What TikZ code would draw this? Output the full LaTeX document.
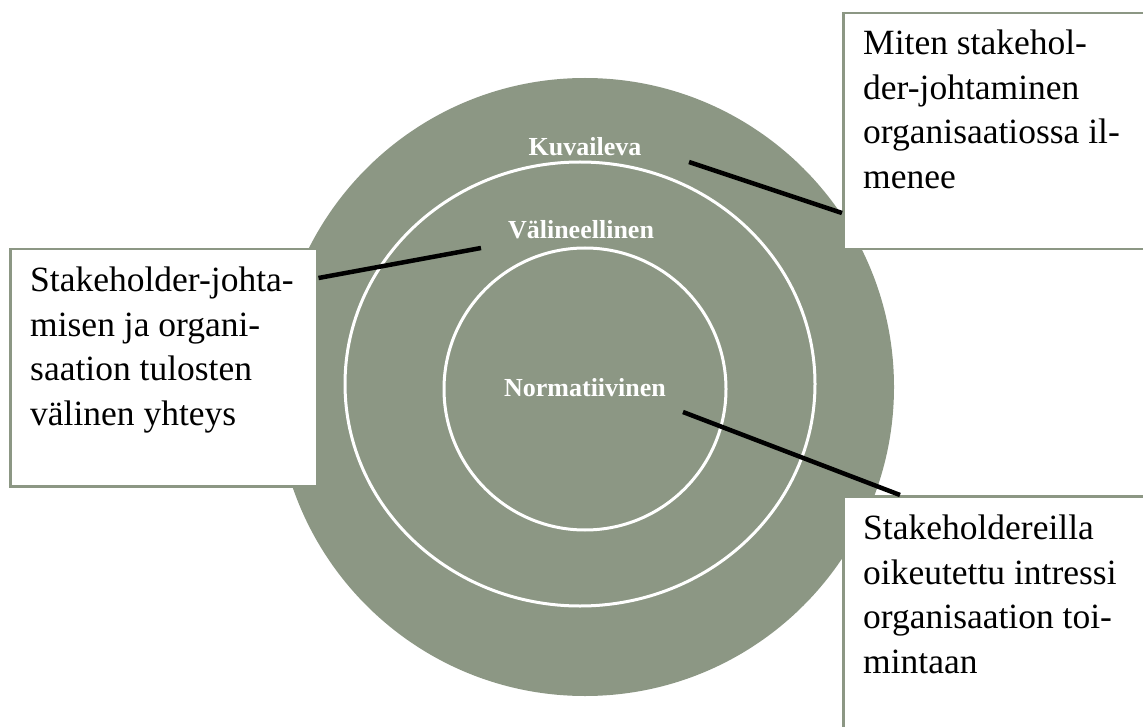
\documentclass[tikz,border=0pt]{standalone}
\usepackage{fontspec}
\setmainfont{Liberation Serif}
\usepackage{tikz}
\usetikzlibrary{positioning,shapes.geometric}
\definecolor{salvia}{HTML}{8C9784}

\begin{document}
\begin{tikzpicture}[x=1pt,y=-1pt,
    rengas/.style={draw=white,line width=3pt,inner sep=0pt},
    taso/.style={text=white,font=\fontsize{26}{30}\selectfont\bfseries,anchor=base,inner sep=0pt},
    laatikko/.style={draw=salvia,line width=2.5pt,fill=white,anchor=north west,inner sep=0pt},
    teksti/.style={align=left,inner sep=0pt,font=\fontsize{35.5}{44.5}\selectfont},
    viiva/.style={line width=4.5pt,black}]
  \useasboundingbox (0,0) rectangle (1143,727);
  % renkaat
  \node[circle,fill=salvia,minimum size=618pt,inner sep=0pt] (ulko) at (585,387) {};
  \node[rengas,ellipse,minimum width=470pt,minimum height=444pt] (keski) at (580,384) {};
  \node[rengas,circle,minimum size=282pt] (sisa) at (585,389) {};
  \node[taso] (kuv) at (585,156) {Kuvaileva};
  \node[taso] (val) at (581,239) {Välineellinen};
  \node[taso] (norm) at (585,396) {Normatiivinen};
  % laatikot
  \node[laatikko,minimum width=330pt,minimum height=236pt] (kuvbox) at (842,12) {};
  \node[teksti,below right=18pt and 21pt of kuvbox.north west] (kuvteksti) {Miten stakehol-\\der-johtaminen\\organisaatiossa il-\\menee};
  \node[laatikko,minimum width=307pt,minimum height=237pt] (valbox) at (9,248) {};
  \node[teksti,below right=19pt and 21pt of valbox.north west] (valteksti) {Stakeholder-johta-\\misen ja organi-\\saation tulosten\\välinen yhteys};
  \node[laatikko,minimum width=330pt,minimum height=250pt] (normbox) at (842,495) {};
  \node[teksti,below right=20pt and 21pt of normbox.north west] (normteksti) {Stakeholdereilla\\oikeutettu intressi\\organisaation toi-\\mintaan};
  % viivat
  \coordinate (kuvpaa) at (689,162); \coordinate (kuvliitos) at ([yshift=-201pt]kuvbox.north west);
  \coordinate (valpaa) at (481,248); \coordinate (valliitos) at ([yshift=-30pt]valbox.north east);
  \coordinate (normpaa) at (683,412); \coordinate (normliitos) at ([xshift=58pt]normbox.north west);
  \draw[viiva] (kuvpaa) -- (kuvliitos); \draw[viiva] (valpaa) -- (valliitos); \draw[viiva] (normpaa) -- (normliitos);
\end{tikzpicture}
\end{document}
